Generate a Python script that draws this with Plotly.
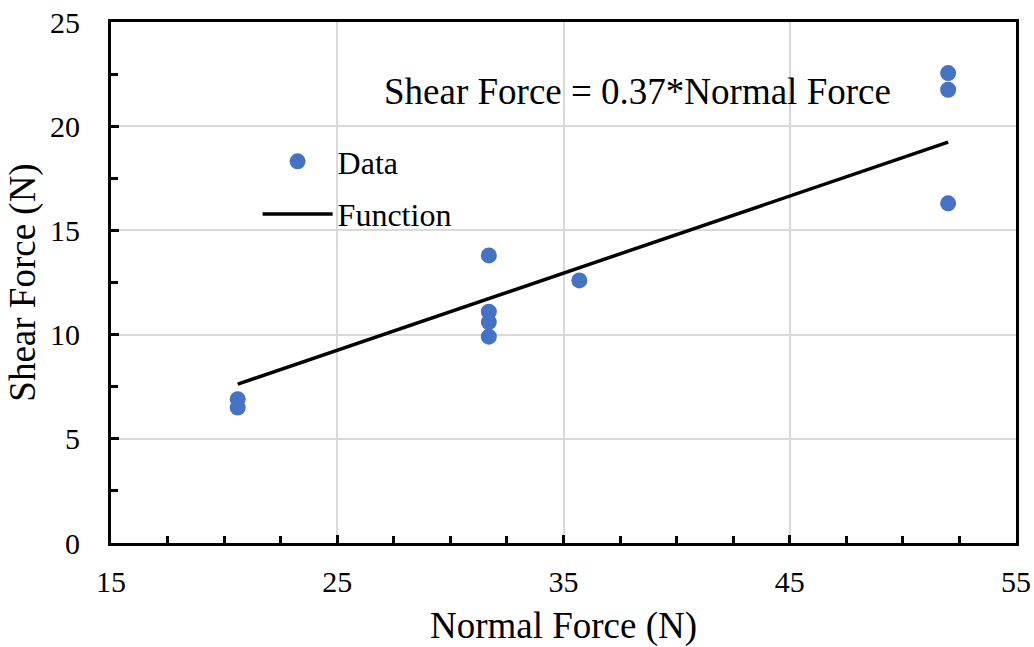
import plotly.graph_objects as go

normal_force = [20.6, 20.6, 31.7, 31.7, 31.7, 31.7, 35.7, 52.0, 52.0, 52.0]
shear_force = [6.5, 6.9, 13.8, 11.1, 10.6, 9.9, 12.6, 22.55, 21.75, 16.3]
slope = 0.37
fit_x = [20.6, 52.0]
fit_y = [slope * v for v in fit_x]

x_ticks = [15, 25, 35, 45, 55]
y_ticks = [0, 5, 10, 15, 20, 25]

font = "Liberation Serif, Times New Roman, serif"

fig = go.Figure()
fig.add_trace(go.Scatter(x=normal_force, y=shear_force, mode="markers", name="Data",
                         legendgroup="d",
                         marker=dict(color="#4472C4", size=16)))
fig.add_trace(go.Scatter(x=fit_x, y=fit_y, mode="lines", name="Function",
                         legendgroup="f",
                         line=dict(color="black", width=3.5)))

fig.add_annotation(x=0.582, y=0.91, xref="paper", yref="paper",
                   text="Shear Force = 0.37*Normal Force", showarrow=False,
                   font=dict(family=font, size=37, color="black"))

axis_common = dict(showline=True, linecolor="black", linewidth=3, mirror=True,
                   ticks="inside", ticklen=8, tickwidth=3, tickcolor="black",
                   showgrid=True, gridcolor="#d9d9d9", gridwidth=1.5,
                   zeroline=False,
                   tickfont=dict(family=font, size=30, color="black"))

fig.update_xaxes(range=[15, 55], tickvals=x_ticks,
                 minor=dict(ticks="inside", ticklen=7, tickwidth=3, tickcolor="black", dtick=2.5, showgrid=False),
                 title=dict(text="Normal Force (N)", font=dict(family=font, size=37, color="black"), standoff=18),
                 ticklabelstandoff=10,
                 **axis_common)
fig.update_yaxes(range=[0, 25], tickvals=y_ticks,
                 minor=dict(ticks="inside", ticklen=7, tickwidth=3, tickcolor="black", dtick=2.5, showgrid=False),
                 title=dict(text="Shear Force (N)", font=dict(family=font, size=37, color="black"), standoff=4),
                 ticklabelstandoff=22,
                 **axis_common)

fig.update_layout(width=1034, height=647,
                  margin=dict(l=111, r=18, t=22, b=104, autoexpand=False),
                  paper_bgcolor="white", plot_bgcolor="white",
                  showlegend=True,
                  legend=dict(x=0.162, y=0.785, xanchor="left", yanchor="top",
                              bgcolor="rgba(0,0,0,0)", itemwidth=70, tracegroupgap=8,
                              font=dict(family=font, size=32, color="black")))

fig.write_html("out.html", config={"displayModeBar": False},
               post_script="document.body.style.margin='0';document.body.style.overflow='hidden';")
